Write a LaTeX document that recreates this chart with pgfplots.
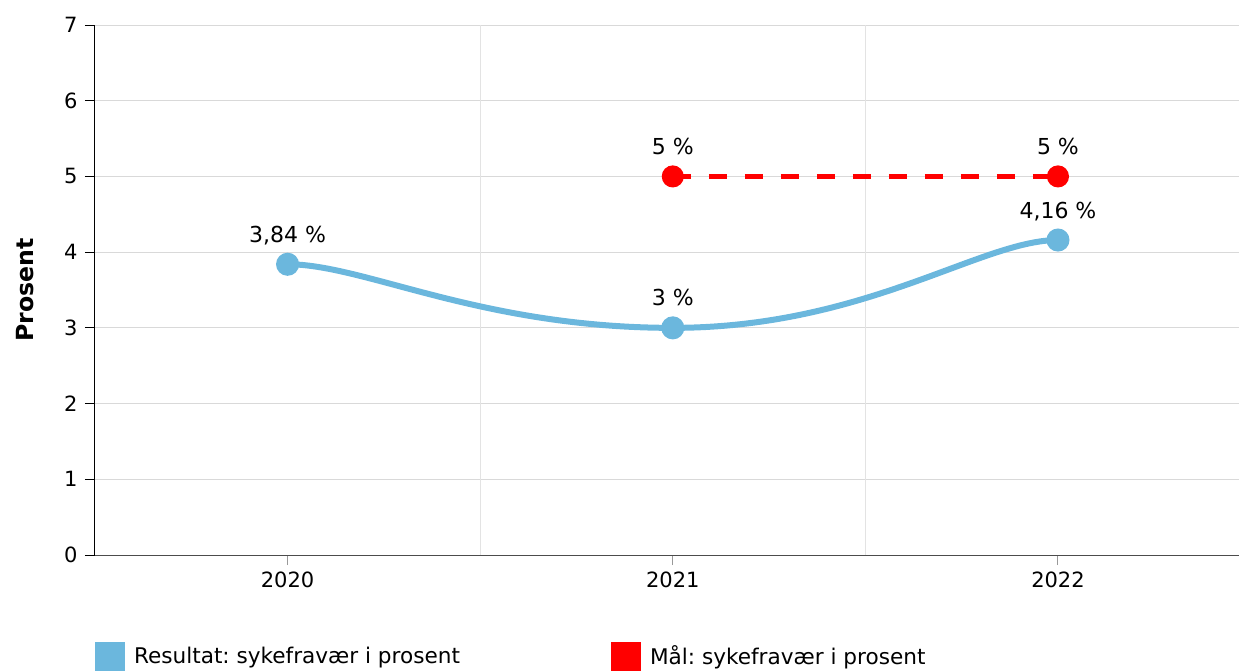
\documentclass[border=0pt]{standalone}
\usepackage{pgfplots}
\pgfplotsset{compat=1.18}
\usepackage{fontspec}
\setmainfont{DejaVu Sans}
\definecolor{resblue}{HTML}{6BB7DD}
\definecolor{malred}{HTML}{FF0000}
\definecolor{gridgray}{HTML}{D9D9D9}
\definecolor{vgrid}{HTML}{E3E3E3}
\makeatletter
% plot handler: smooth curve through the data points with horizontal tangents
\newcount\hc@n \newcount\hc@i \newcount\hc@j
\newdimen\hc@xa \newdimen\hc@ya \newdimen\hc@xb \newdimen\hc@yb
\newdimen\hc@dx \newdimen\hc@ca \newdimen\hc@cb
\def\pgfplothandlerhcspline{%
  \def\pgf@plotstreamstart{%
    \global\hc@n=0
    \global\let\pgf@plotstreampoint=\hc@point
    \global\let\pgf@plotstreampointoutlier=\pgfutil@gobble
    \global\let\pgf@plotstreampointundefined=\pgfutil@gobble
    \global\let\pgf@plotstreamnewdataset=\relax
    \global\let\pgf@plotstreamspecial=\pgfutil@gobble
    \global\let\pgf@plotstreamend=\hc@end
  }%
}
\def\hc@point#1{%
  \pgf@process{#1}%
  \global\advance\hc@n by 1
  \expandafter\xdef\csname hc@x@\the\hc@n\endcsname{\the\pgf@x}%
  \expandafter\xdef\csname hc@y@\the\hc@n\endcsname{\the\pgf@y}%
}
\def\hc@end{%
  \pgfpathmoveto{\pgfqpoint{\csname hc@x@1\endcsname}{\csname hc@y@1\endcsname}}%
  \hc@i=1
  \loop\ifnum\hc@i<\hc@n
    \hc@j=\hc@i \advance\hc@j by 1
    \hc@xa=\csname hc@x@\the\hc@i\endcsname\relax
    \hc@ya=\csname hc@y@\the\hc@i\endcsname\relax
    \hc@xb=\csname hc@x@\the\hc@j\endcsname\relax
    \hc@yb=\csname hc@y@\the\hc@j\endcsname\relax
    \hc@dx=\hc@xb \advance\hc@dx by -\hc@xa
    \edef\hc@ha{\ifnum\hc@i=1 0.2\else 0.5\fi}%
    \edef\hc@hb{\ifnum\hc@j=\hc@n 0.2\else 0.5\fi}%
    \hc@ca=\hc@ha\hc@dx \advance\hc@ca by \hc@xa
    \hc@cb=-\hc@hb\hc@dx \advance\hc@cb by \hc@xb
    \pgfpathcurveto{\pgfqpoint{\hc@ca}{\hc@ya}}{\pgfqpoint{\hc@cb}{\hc@yb}}{\pgfqpoint{\hc@xb}{\hc@yb}}%
    \advance\hc@i by 1
  \repeat
}
\tikzset{hcspline/.code={\let\tikz@plot@handler=\pgfplothandlerhcspline}}
\makeatother
\begin{document}
\frenchspacing
\fontsize{10.5}{12.6}\selectfont
\begin{tikzpicture}
\begin{axis}[
  width=572pt, height=265pt, scale only axis,
  xmin=-0.5, xmax=2.47, ymin=0, ymax=7,
  axis x line*=bottom, axis y line*=left,
  x axis line style={color=black!70, line width=0.5pt},
  y axis line style={black, line width=0.5pt},
  xtick={0,1,2}, xticklabels={2020,2021,2022},
  ytick={0,1,...,7},
  ymajorgrids, grid style={gridgray, line width=0.5pt},
  tick align=outside, major tick length=5pt,
  x tick style={black!40, line width=0.5pt},
  y tick style={black, line width=0.5pt},
  extra x ticks={0.5,1.5}, extra x tick labels={},
  extra x tick style={xmajorgrids=true, major grid style={vgrid, line width=0.5pt}, major tick length=0pt},
  tick label style={font=\fontsize{10.5}{12.6}\selectfont},
  /pgf/number format/assume math mode=true,
  /pgf/number format/use comma,
  ylabel={\textbf{Prosent}},
  ylabel style={at={(axis description cs:-0.054,0.5)}, anchor=base, font=\fontsize{11.8}{14}\selectfont},
  legend columns=2,
  legend style={at={(axis description cs:0,0)}, anchor=north west, yshift=-43.5pt,
    draw=none, fill=none, inner sep=0pt, outer sep=0pt,
    font=\fontsize{10.8}{13}\selectfont,
    /tikz/every odd column/.append style={column sep=2.5pt},
    /tikz/every even column/.append style={column sep=73.5pt}},
  legend cell align=left,
  legend image code/.code={\fill[draw=none, solid] (0pt,-7.5pt) rectangle (15pt,7.5pt);},
  nodes near coords={\pgfmathprintnumber{\pgfplotspointmeta} \%},
  nodes near coords style={anchor=base, yshift=11pt, text=black, font=\fontsize{11}{13}\selectfont},
]
\addplot[resblue, line width=3pt, hcspline, mark=*, mark size=4.25pt, mark options={solid, draw=none, fill=resblue}]
  coordinates {(0,3.84) (1,3.0) (2,4.16)};
\addlegendentry{Resultat: sykefravær i prosent}
\addplot[malred, line width=2.5pt, dash pattern=on 9pt off 9pt, mark=*, mark size=4.25pt, mark options={solid, draw=none, fill=malred}]
  coordinates {(1,5) (2,5)};
\addlegendentry{Mål: sykefravær i prosent}
\coordinate (sw) at (rel axis cs:0,0);
\coordinate (ne) at (rel axis cs:1,1);
\end{axis}
\pgfresetboundingbox
\path ([xshift=-47.5pt,yshift=-57.5pt]sw) rectangle ([yshift=12.5pt]ne);
\end{tikzpicture}
\end{document}
